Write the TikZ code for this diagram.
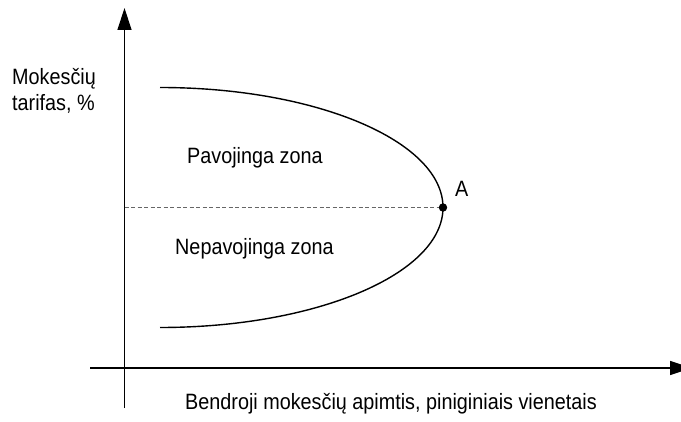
\documentclass[tikz,border=0pt]{standalone}
\usepackage{fontspec}
\setmainfont{Liberation Sans}
\usetikzlibrary{arrows.meta}
\newcommand{\lbltext}[1]{\scalebox{1}[1.12]{#1}}
\begin{document}
\begin{tikzpicture}[x=1pt,y=1pt,
  axis/.style={line width=1.3pt,-{Triangle[length=22pt,width=14pt]}},
  curve/.style={line width=1.4pt},
  guide/.style={line width=1pt,gray!80!black,dash pattern=on 4pt off 2.5pt},
  lbl/.style={inner sep=0pt,anchor=base west,font=\fontsize{19.8}{24}\selectfont}]
\useasboundingbox (0,0) rectangle (681,421);
% axes
\coordinate (ybot) at (124.5,13);
\coordinate (ytop) at (124.5,413);
\coordinate (xleft) at (90,53);
\coordinate (xright) at (692,53);
\draw[axis] (ybot) -- (ytop);
\draw[axis] (xleft) -- (xright);
% half-ellipse boundary
\coordinate (ctop) at (160,333.5);
\coordinate (A) at (443,213.5);
\coordinate (cbot) at (160,93.5);
\draw[curve] (ctop) arc[start angle=90,end angle=-90,x radius=283,y radius=120];
% dashed level line through A
\coordinate (yA) at (124.5,213.5);
\draw[guide] (yA) -- (A);
\fill (A) circle (4.2);
% labels
\node[lbl] (ylab1) at (12,336.7) {\lbltext{Mokesčių}};
\node[lbl] (ylab2) at (12,310) {\lbltext{tarifas, \%}};
\node[lbl] (zone1) at (187,257.7) {\lbltext{Pavojinga zona}};
\node[lbl] (zone2) at (175,166.7) {\lbltext{Nepavojinga zona}};
\node[lbl] (alab) at (455,224) {\lbltext{A}};
\node[lbl] (xlab) at (185,12) {\lbltext{Bendroji mokesčių apimtis, piniginiais vienetais}};
\end{tikzpicture}
\end{document}
